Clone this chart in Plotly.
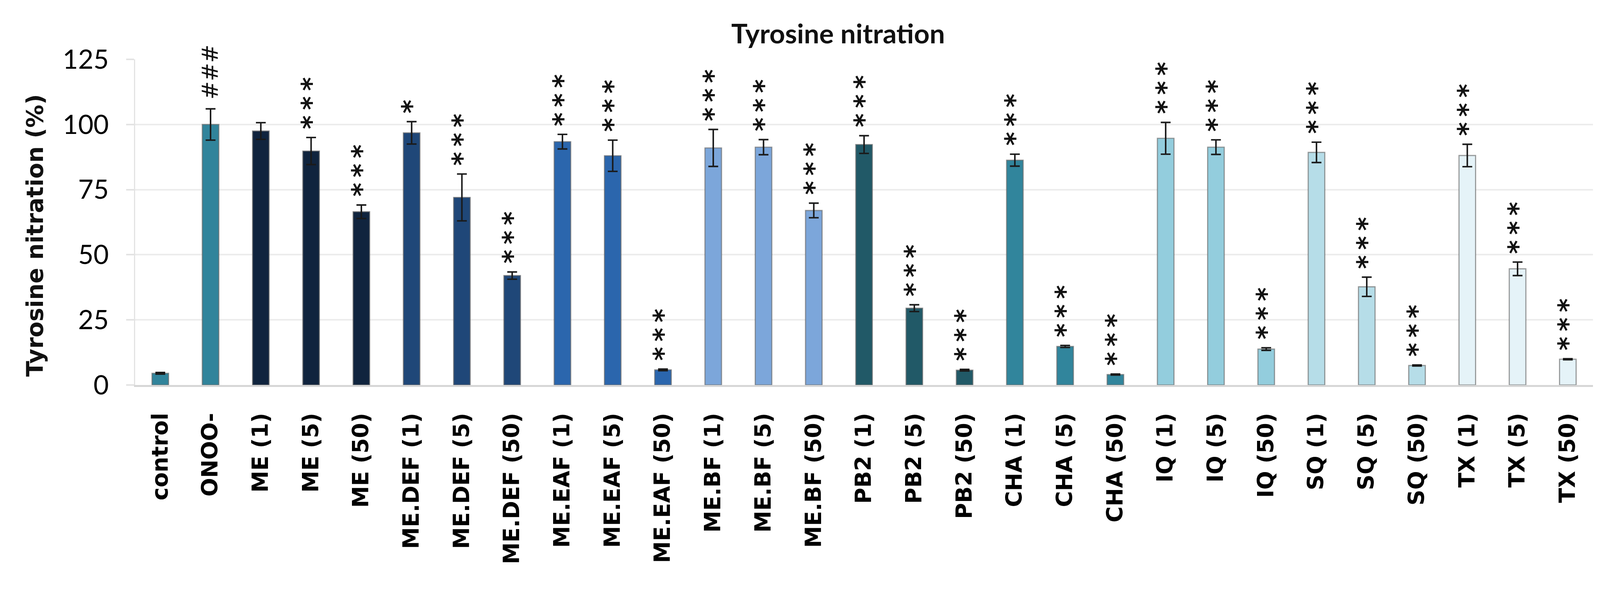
import plotly.graph_objects as go

categories = ["control", "ONOO-", "ME (1)", "ME (5)", "ME (50)",
              "ME.DEF (1)", "ME.DEF (5)", "ME.DEF (50)",
              "ME.EAF (1)", "ME.EAF (5)", "ME.EAF (50)",
              "ME.BF (1)", "ME.BF (5)", "ME.BF (50)",
              "PB2 (1)", "PB2 (5)", "PB2 (50)",
              "CHA (1)", "CHA (5)", "CHA (50)",
              "IQ (1)", "IQ (5)", "IQ (50)",
              "SQ (1)", "SQ (5)", "SQ (50)",
              "TX (1)", "TX (5)", "TX (50)"]
values = [4.5, 100, 97.5, 89.8, 66.5,
          96.8, 72.0, 42.0,
          93.4, 88.0, 5.8,
          91.0, 91.3, 67.0,
          92.3, 29.5, 5.7,
          86.3, 14.8, 4.0,
          94.7, 91.3, 13.8,
          89.3, 37.7, 7.5,
          88.1, 44.6, 9.9]
errors = [0.3, 6.0, 3.2, 5.2, 2.6,
          4.3, 9.0, 1.4,
          2.8, 6.0, 0.3,
          7.1, 2.9, 2.8,
          3.4, 1.3, 0.3,
          2.3, 0.4, 0.2,
          6.1, 2.8, 0.5,
          3.9, 3.7, 0.2,
          4.3, 2.6, 0.2]
marks = ["", "###", "", "***", "***",
         "*", "***", "***",
         "***", "***", "***",
         "***", "***", "***",
         "***", "***", "***",
         "***", "***", "***",
         "***", "***", "***",
         "***", "***", "***",
         "***", "***", "***"]
colors = ["#31849B", "#31849B", "#10243E", "#10243E", "#10243E",
          "#1F4778", "#1F4778", "#1F4778",
          "#2B66AD", "#2B66AD", "#2B66AD",
          "#7CA6DA", "#7CA6DA", "#7CA6DA",
          "#215967", "#215967", "#215967",
          "#31859C", "#31859C", "#31859C",
          "#93CDDD", "#93CDDD", "#93CDDD",
          "#B6DDE8", "#B6DDE8", "#B6DDE8",
          "#E5F3F8", "#E5F3F8", "#E5F3F8"]

# the page is captured at a slightly smaller viewport, so design in scaled pixels
S = 4096 / 4231


def px(v):
    return v * S


def ipx(v):
    return int(round(v * S))


W0, H0 = 4231, 1511
L0, R0, T0, B0 = 349, 27, 149, 501
W, H = ipx(W0), ipx(H0)
L, R, T, B = ipx(L0), ipx(R0), ipx(T0), ipx(B0)
pw0 = W0 - L0 - R0
ph0 = H0 - T0 - B0

fig = go.Figure()
fig.add_trace(go.Bar(
    x=categories, y=values,
    marker=dict(color=colors, line=dict(color="rgba(105,105,105,0.65)", width=px(3))),
    error_y=dict(type="data", array=errors, visible=True,
                 color="#1a1a1a", thickness=px(4), width=px(13)),
    width=0.33,
))

annotations = []
for c, v, e, m in zip(categories, values, errors, marks):
    if not m:
        continue
    is_hash = m.startswith("#")
    annotations.append(dict(
        x=c, y=v + e, xref="x", yref="y",
        text=("\u2009".join(list(m))) if not is_hash else m,
        textangle=-90, showarrow=False,
        xanchor="center", yanchor="bottom",
        yshift=px(20) if not is_hash else px(22),
        font=dict(family="DejaVu Sans", size=px(70) if not is_hash else px(58),
                  color="#111111", weight="bold" if not is_hash else "normal"),
    ))

# chart title
annotations.append(dict(
    x=(2208 - L0) / pw0, y=(H0 - B0 - 79) / ph0, xref="paper", yref="paper",
    text="<b>Tyrosine nitration</b>", showarrow=False,
    xanchor="center", yanchor="middle",
    font=dict(family="Lato", size=px(72), color="#111111"),
))
# y axis title
annotations.append(dict(
    x=(84 - L0) / pw0, y=0.46, xref="paper", yref="paper",
    text="<b>Tyrosine nitration (%)</b>", textangle=-90, showarrow=False,
    xanchor="center", yanchor="middle",
    font=dict(family="DejaVu Sans", size=px(61), color="#111111"),
))

fig.update_layout(
    width=W, height=H,
    margin=dict(l=L, r=R, t=T, b=B, pad=0),
    paper_bgcolor="white", plot_bgcolor="white",
    showlegend=False,
    annotations=annotations,
    bargap=0.67,
)
fig.update_xaxes(
    type="category",
    tickangle=-90,
    tickfont=dict(family="DejaVu Sans", size=px(58), color="#000000", weight="bold"),
    showline=True, linecolor="#d6d6d6", linewidth=px(5),
    showgrid=False, ticks="", ticklabelstandoff=ipx(45),
)
fig.update_yaxes(
    range=[0, 125], tickvals=[0, 25, 50, 75, 100, 125],
    ticktext=["0", "25", "50", "75", "100", "125"],
    tickfont=dict(family="Lato", size=px(70), color="#000000"),
    showgrid=True, gridcolor="#ececec", gridwidth=px(4),
    zeroline=False,
    showline=True, linecolor="#e3e3e3", linewidth=px(3),
    ticks="outside", ticklen=ipx(21), tickcolor="#e3e3e3", tickwidth=px(4),
    ticklabelstandoff=ipx(32),
)

fig.write_html("out.html")
